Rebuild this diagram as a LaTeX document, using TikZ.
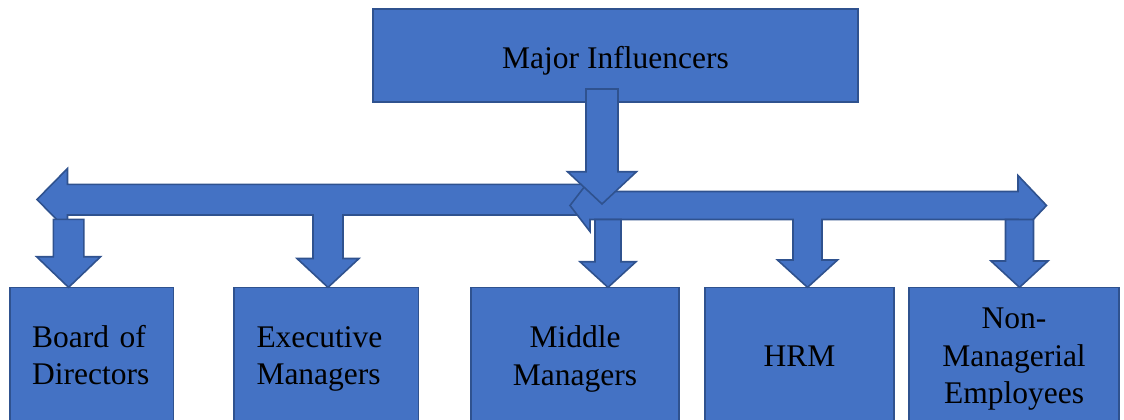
\documentclass[tikz,border=0pt]{standalone}
\usepackage{fontspec}
\setmainfont{Liberation Serif}
\usetikzlibrary{calc}
\definecolor{boxfill}{HTML}{4472C4}
\definecolor{boxline}{HTML}{2F528F}
% fat down arrow: tip x, target node, top y, head y, half shaft, half head
\newcommand\blockdown[6]{
  \draw[blk] (#1-#5,#3) -- (#1-#5,#4) -- (#1-#6,#4) -- (#1,0 |- #2.north)
    -- (#1+#6,#4) -- (#1+#5,#4) -- (#1+#5,#3) -- cycle;
}

\begin{document}
\begin{tikzpicture}[x=1pt, y=-1pt,
  box/.style = {draw=boxline, fill=boxfill, line width=1.6pt, align=center, outer sep=0pt,
    font=\fontsize{31.5}{37.5}\selectfont, minimum height=136.7, text depth=0pt},
  lefttext/.style = {text width=#1, align=left, text height=20pt, text depth=37.4pt},
  blk/.style = {draw=boxline, fill=boxfill, line width=1.6pt, line join=miter}]
	\useasboundingbox (0,0) rectangle (1124,420);
	\clip (0,0) rectangle (1124,420);
	\node[box, minimum width=485, minimum height=93, text height=27pt] (top) at (615.5,55.5) {Major Influencers};
	\node[box, minimum width=163.6, lefttext=119.4pt] (bod) at (91.8,355.7) {Board of\\Directors};
	\node[box, minimum width=184.6, lefttext=139.6pt] (exe) at (326.3,355.7) {Executive\\Managers};
	\node[box, minimum width=208] (mid) at (575,355.7) {Middle\\Managers};
	\node[box, minimum width=189] (hrm) at (799.5,355.7) {HRM};
	\node[box, minimum width=210] (nme) at (1014,355.7) {Non-\\Managerial\\Employees};
	% left branch
	\draw[blk] (37,199.5) -- (67.5,168.5) -- (67.5,184.3) -- (588,184.3) -- (588,215)
	  -- (343,215) -- (343,258.5) -- (359,258.5) -- (328,0 |- exe.north) -- (297,258.5)
	  -- (313,258.5) -- (313,215) -- (67.5,215) -- (67.5,230.5) -- cycle;
	\blockdown{68.6}{bod}{219.3}{256.7}{15.3}{32}
	% right branch
	\draw[blk] (570,205.5) -- (590,179.5) -- (590,191.5) -- (1018,191.5) -- (1018,175.5)
	  -- (1046.5,205.5) -- (1018,235.5) -- (1018,219.5) -- (822,219.5) -- (822,260)
	  -- (837.5,260) -- (807.5,0 |- hrm.north) -- (777.5,260) -- (793,260) -- (793,219.5)
	  -- (590,219.5) -- (590,231.5) -- cycle;
	\blockdown{608}{mid}{219.5}{261.7}{13}{28}
	\blockdown{1019.5}{nme}{219.5}{261}{14}{28.5}
	% from the top box
	\coordinate (hub) at (602,204);
	\draw[blk] ([xshift=-29.5pt,yshift=13pt]top.south) -- (586,171.7) -- (567.5,171.7) -- (hub)
	  -- (636.5,171.7) -- (618,171.7) -- (618,89) -- cycle;
\end{tikzpicture}
\end{document}
